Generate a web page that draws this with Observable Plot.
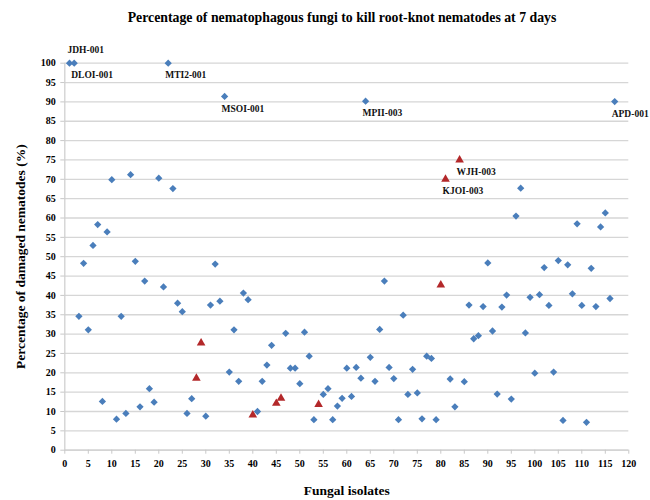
<!DOCTYPE html>
<html>
<head>
<meta charset="utf-8">
<script src="https://cdn.jsdelivr.net/npm/d3@7"></script>
<script src="https://cdn.jsdelivr.net/npm/@observablehq/plot@0.6"></script>
<style>
  body { margin: 0; background: #fff; }
  #title { height: 30px; line-height: 36px; text-align: center; padding-left: 34px; box-sizing: border-box; white-space: nowrap;
           font-family: "Liberation Serif", "Times New Roman", serif; font-weight: bold; font-size: 13.8px; color: #000; width: 650px; }
  svg { display: block; }
</style>
</head>
<body>
<div id="title">Percentage of nematophagous fungi to kill root-knot nematodes at 7 days</div>
<div id="chart"></div>
<script>
// Blue diamonds: isolate number and percentage of damaged nematodes
const blueX = [1,2,3,4,5,6,7,8,9,10,11,12,13,14,15,16,17,18,19,20,21,22,23,24,25,26,27,30,31,32,33,34,35,36,37,38,39,41,42,43,44,47,48,49,50,51,52,53,55,56,57,58,59,60,61,62,63,64,65,66,67,68,69,70,71,72,73,74,75,76,77,78,79,82,83,85,86,87,88,89,90,91,92,93,94,95,96,97,98,99,100,101,102,103,104,105,106,107,108,109,110,111,112,113,114,115,116,117];
const blueY = [100,100,34.6,48.3,31.1,52.9,58.3,12.6,56.4,69.9,8.0,34.6,9.5,71.2,48.8,11.2,43.7,15.9,12.4,70.3,42.2,100,67.6,38.0,35.8,9.5,13.3,8.8,37.5,48.1,38.5,91.4,20.2,31.1,17.8,40.6,38.9,10.0,17.8,22.0,27.1,30.2,21.2,21.2,17.2,30.5,24.3,7.9,14.4,15.9,7.9,11.4,13.4,21.2,13.9,21.4,18.6,90.2,24.0,17.8,31.2,43.7,21.4,18.5,7.9,34.9,14.4,20.9,14.8,8.1,24.3,23.7,7.9,18.4,11.2,17.7,37.5,28.8,29.6,37.1,48.4,30.8,14.5,37.0,40.1,13.2,60.5,67.7,30.3,39.5,19.9,40.2,47.2,37.4,20.2,49.0,7.7,47.9,40.4,58.5,37.4,7.2,47.0,37.1,57.7,61.3,39.2,90.1];

// Red triangles
const redX = [28,29,40,45,46,54,80,81,84];
const redY = [18.6,27.7,9.1,12.1,13.4,11.8,42.7,70,75];

// Labelled isolates
const labelX = [1,2,22,34,64,117,84,81];
const labelY = [100,100,100,91.4,90.2,90.1,75,70];
const labelText = ["JDH-001","DLOI-001","MTI2-001","MSOI-001","MPII-003","APD-001","WJH-003","KJOI-003"];

const xTicks = d3.range(0, 121, 5);
const yTicks = d3.range(0, 101, 5);

const blue = blueX.map((x, i) => ({x, y: blueY[i]}));
const red = redX.map((x, i) => ({x, y: redY[i]}));
const labels = labelX.map((x, i) => ({x, y: labelY[i], text: labelText[i]}));
const labelsAbove = labels.filter(d => d.text === "JDH-001");
const labelsBelow = labels.filter(d => d.text !== "JDH-001");

const serif = "'Liberation Serif', 'Times New Roman', serif";

const chart = Plot.plot({
  width: 650,
  height: 470,
  marginTop: 32.7,
  marginBottom: 50.3,
  marginLeft: 64.3,
  marginRight: 21.7,
  style: {fontFamily: serif, fontSize: "10px", fontWeight: "bold", color: "#000", background: "#fff", overflow: "visible"},
  x: {domain: [0, 120]},
  y: {domain: [0, 100]},
  marks: [
    Plot.gridY(yTicks, {stroke: "#d6d6d6", strokeOpacity: 1, strokeWidth: 1.3}),
    Plot.ruleX([0], {stroke: "#d0d0d0", strokeWidth: 1.3}),
    Plot.ruleY([0], {stroke: "#d0d0d0", strokeWidth: 1.3}),
    Plot.axisY(yTicks, {tickSize: 4, tickPadding: 5, stroke: "#c8c8c8", label: null, fill: "#000"}),
    Plot.axisX(xTicks, {tickSize: 4, tickPadding: 6, stroke: "#c8c8c8", label: null, fill: "#000"}),
    Plot.dot(blue, {x: "x", y: "y", symbol: "square", r: 2.9, rotate: 45, fill: "#4a7ebb", stroke: "none"}),
    Plot.dot(red, {x: "x", y: "y", symbol: "triangle", r: 3.2, fill: "#b3282a", stroke: "none"}),
    Plot.text(labelsBelow, {x: "x", y: "y", text: "text", textAnchor: "start", dx: -3, dy: 12, fontSize: 9.5, fontWeight: "bold", fill: "#111"}),
    Plot.text(labelsAbove, {x: "x", y: "y", text: "text", textAnchor: "start", dx: -2, dy: -13, fontSize: 9.5, fontWeight: "bold", fill: "#111"}),
    Plot.text(["Percentage of damaged nematodes (%)"], {frameAnchor: "left", textAnchor: "middle", lineAnchor: "middle", rotate: -90, dx: -44, fontSize: 13.5, fontWeight: "bold", fill: "#000"}),
    Plot.text(["Fungal isolates"], {frameAnchor: "bottom", textAnchor: "middle", lineAnchor: "middle", dy: 40.5, fontSize: 13.5, fontWeight: "bold", fill: "#000"})
  ]
});
document.getElementById("chart").appendChild(chart);
</script>
</body>
</html>
